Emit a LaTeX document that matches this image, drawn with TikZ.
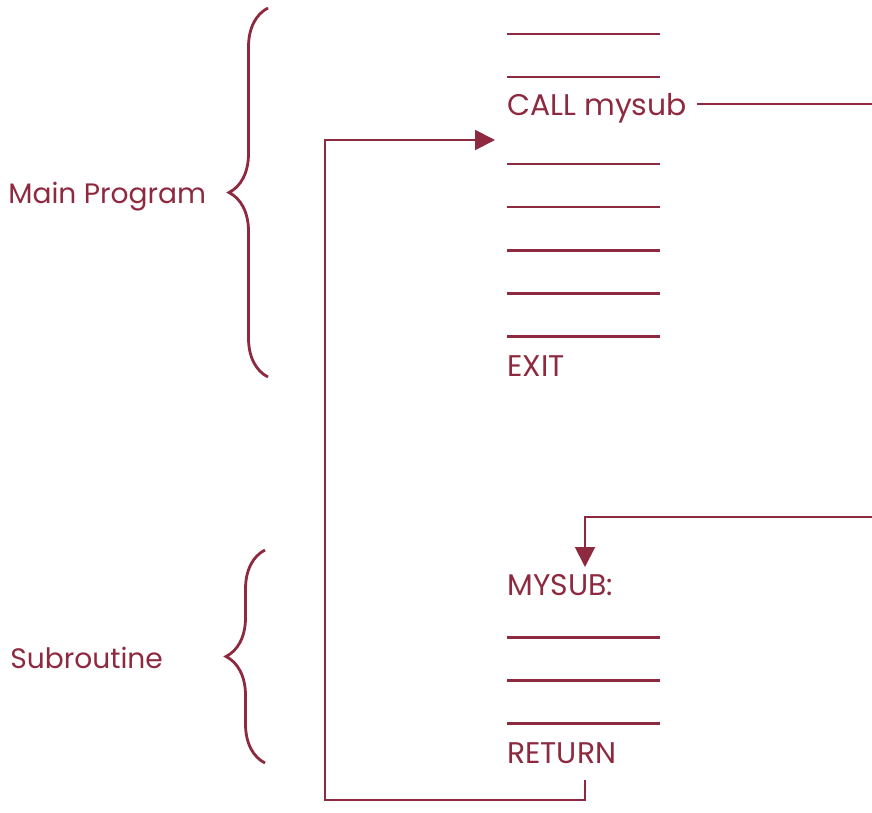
\documentclass[tikz,border=0pt]{standalone}
\usepackage{fontspec}
\setmainfont{Poppins}
\usetikzlibrary{arrows.meta,decorations.pathreplacing}
\definecolor{wine}{RGB}{142,42,64}
\tikzset{every node/.style={draw=none,inner sep=0pt,text=wine,anchor=base west}}
\tikzset{code/.style={font=\fontsize{17}{20}\selectfont}}
\tikzset{part/.style={font=\fontsize{16}{19}\selectfont}}
\tikzset{rule/.style={draw=wine,line width=1.7pt}}
\tikzset{link/.style={draw=wine,line width=1.1pt}}
\tikzset{flow/.style={link,-{Triangle[length=4mm,width=4mm]}}}
\tikzset{curly/.style={draw=wine,line width=1.6pt,decorate,decoration={brace,amplitude=7.8mm}}}

\begin{document}
\begin{tikzpicture}[x=0.02cm,y=-0.02cm]
  \useasboundingbox (0,0) rectangle (872,812);
  % statement lines
  \foreach \y in {34,77,164,207,250,293,336,637,680,723}
    \draw[rule] (507,\y) -- (660,\y);
  \node[code] (call) at (507,115) {CALL mysub};
  \node[code] (exit) at (507,376) {EXIT};
  \node[code] (mysub) at (507,595) {MYSUB:};
  \node[code] (ret) at (507,763) {RETURN};
  % braces
  \draw[curly] (268,377) -- (268,8);
  \draw[curly] (265,763) -- (265,550);
  \node[part] (main) at (8,203) {Main Program};
  \node[part] (sub) at (10,668) {Subroutine};
  % control flow
  \coordinate (callout) at (872,104);
  \coordinate (subin) at (872,517);
  \coordinate (entry) at (585,567);
  \coordinate (retout) at (585,780);
  \coordinate (resume) at (495,140);
  \draw[link] (call.east |- callout) ++(10,0) -- (callout);
  \draw[flow] (subin) -| (entry);
  \draw[flow] (retout) -- ++(0,20) -| (325,140) -- (resume);
\end{tikzpicture}
\end{document}
